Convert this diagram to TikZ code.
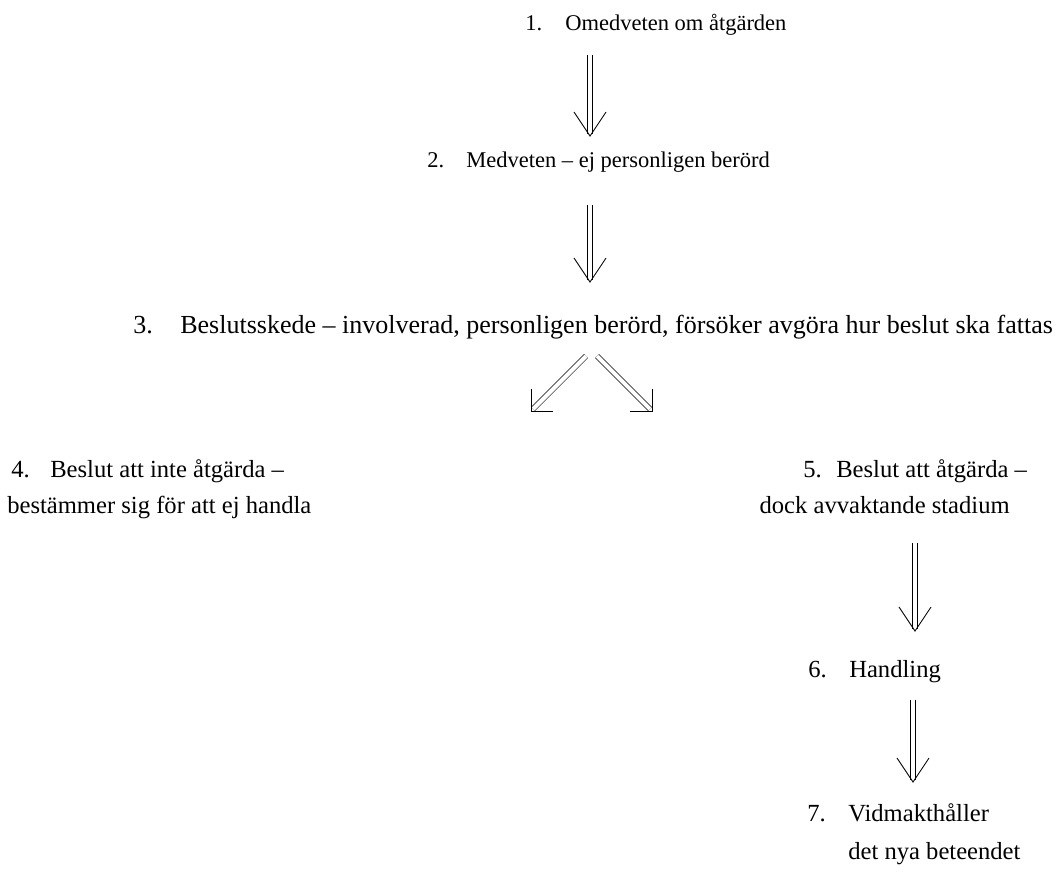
\documentclass[tikz,border=0pt]{standalone}
\usepackage{fontspec}
\setmainfont{Liberation Serif}
\tikzset{
  lbl/.style={inner sep=0pt, anchor=base west, font=\fontsize{17.5}{20}\selectfont},
  toplbl/.style={lbl, font=\fontsize{16}{19}\selectfont},
  widelbl/.style={lbl, font=\fontsize{18.5}{21}\selectfont},
  shaft/.style={double, double distance=3pt, line width=0.5pt},
  head/.style={line width=0.6pt}
}
\begin{document}
\begin{tikzpicture}[x=0.025cm, y=-0.025cm]
  \useasboundingbox (0,0) rectangle (1062,883);
  \draw
    (525,30) node[toplbl] (n1){1.}
    (565,30) node[toplbl] (t1){Omedveten om åtgärden}
    (427,167) node[toplbl] (n2){2.}
    (466,167) node[toplbl] (t2){Medveten – ej personligen berörd}
    (133,333) node[widelbl] (n3){3.}
    (180,333) node[widelbl] (t3){Beslutsskede – involverad, personligen berörd, försöker avgöra hur beslut ska fattas}
    (11,477) node[lbl] (n4){4.}
    (50,477) node[lbl] (t4){Beslut att inte åtgärda –}
    (7,513) node[lbl] (t4b){bestämmer sig för att ej handla}
    (803,477) node[lbl] (n5){5.}
    (836,477) node[lbl] (t5){Beslut att åtgärda –}
    (1010,513) node[lbl, anchor=base east] (t5b){dock avvaktande stadium}
    (808,677) node[lbl] (n6){6.}
    (849,677) node[lbl] (t6){Handling}
    (807,821) node[lbl] (n7){7.}
    (848,821) node[lbl] (t7){Vidmakthåller}
    (848,859) node[lbl] (t7b){det nya beteendet};
  % arrow end points
  \coordinate (a1s) at (590,55);
  \coordinate (a1e) at (590,134);
  \coordinate (a2s) at (590,205);
  \coordinate (a2e) at (590,280);
  \coordinate (a3s) at (586,356);
  \coordinate (a3e) at (533,409);
  \coordinate (a4s) at (597,356);
  \coordinate (a4e) at (650,409);
  \coordinate (a5s) at (915,543);
  \coordinate (a5e) at (915,629);
  \coordinate (a6s) at (913,700);
  \coordinate (a6e) at (913,780);
  \begin{scope}
    \draw[shaft] (a1s) -- (a1e);
    \draw[shaft] (a2s) -- (a2e);
    \draw[shaft] (a3s) -- (a3e);
    \draw[shaft] (a4s) -- (a4e);
    \draw[shaft] (a5s) -- (a5e);
    \draw[shaft] (a6s) -- (a6e);
  \end{scope}
  \begin{scope}[head]
    \draw (a1e) ++(-16,-22) -- ++(16,24) -- ++(16,-24);
    \draw (a2e) ++(-16,-22) -- ++(16,24) -- ++(16,-24);
    \draw (a3e) ++(-2,-20) -- ++(0,22) -- ++(22,0);
    \draw (a4e) ++(2,-20) -- ++(0,22) -- ++(-22,0);
    \draw (a5e) ++(-16,-22) -- ++(16,24) -- ++(16,-24);
    \draw (a6e) ++(-16,-22) -- ++(16,24) -- ++(16,-24);
  \end{scope}
\end{tikzpicture}
\end{document}
